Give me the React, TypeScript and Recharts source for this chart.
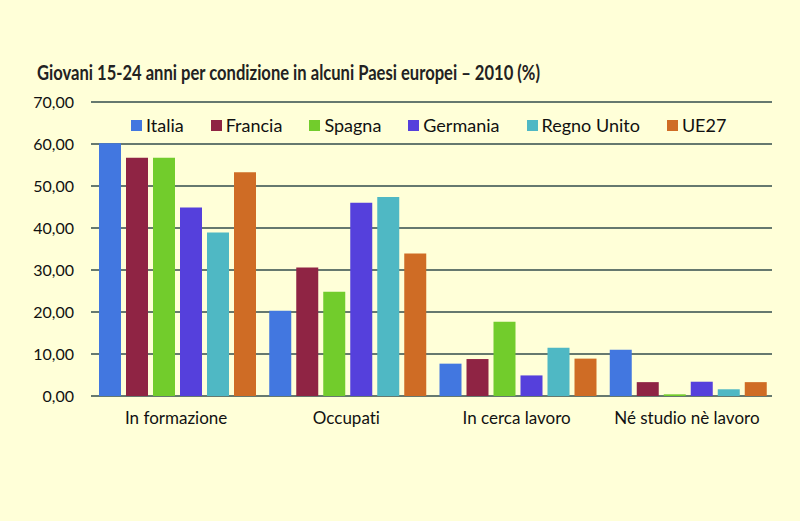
import { BarChart, Bar, XAxis, YAxis, CartesianGrid } from "recharts";

const categories = ["In formazione", "Occupati", "In cerca lavoro", "Né studio nè lavoro"];

const italia = [60.2, 20.3, 7.7, 11.0];
const francia = [56.7, 30.6, 8.8, 3.3];
const spagna = [56.7, 24.8, 17.7, 0.4];
const germania = [44.9, 46.0, 4.9, 3.4];
const regnoUnito = [38.9, 47.4, 11.5, 1.6];
const ue27 = [53.3, 33.9, 8.9, 3.3];

const yTicks = [0, 10, 20, 30, 40, 50, 60, 70];

const series = [
  { key: "Italia", values: italia, color: "#4277e0" },
  { key: "Francia", values: francia, color: "#8f2444" },
  { key: "Spagna", values: spagna, color: "#72cc2c" },
  { key: "Germania", values: germania, color: "#5540dc" },
  { key: "Regno Unito", values: regnoUnito, color: "#4fb8c4" },
  { key: "UE27", values: ue27, color: "#cf6c25" },
];

const data = categories.map((name, i) => {
  const row: Record<string, string | number> = { name };
  series.forEach((s) => {
    row[s.key] = s.values[i];
  });
  return row;
});

const FONT = "Lato, 'Noto Sans', sans-serif";
const BG = "#ffffd8";

function formatIt(v: number): string {
  return v.toFixed(2).replace(".", ",");
}

function LegendRow() {
  return (
    <div
      style={{
        position: "absolute",
        left: 131,
        top: 114,
        display: "flex",
        alignItems: "center",
        fontFamily: FONT,
        fontSize: 18,
        color: "#111",
        fontFeatureSettings: "'liga' 0",
      }}
    >
      {series.map((s) => (
        <div key={s.key} style={{ display: "flex", alignItems: "center", marginRight: 27 }}>
          <span style={{ width: 11, height: 11, background: s.color, marginRight: 4, display: "inline-block" }} />
          <span>{s.key}</span>
        </div>
      ))}
    </div>
  );
}

export default function App() {
  return (
    <div
      style={{
        position: "absolute",
        left: 0,
        top: 0,
        width: 800,
        height: 521,
        background: BG,
        overflow: "hidden",
      }}
    >
      <svg width={800} height={100} style={{ position: "absolute", left: 0, top: 0 }}>
        <text
          x={37}
          y={80}
          textLength={503}
          lengthAdjust="spacingAndGlyphs"
          style={{ fontFamily: FONT, fontSize: 20, fontWeight: 700, fill: "#222" }}
        >
          Giovani 15-24 anni per condizione in alcuni Paesi europei – 2010 (%)
        </text>
      </svg>
      <div style={{ position: "absolute", left: 0, top: 0 }}>
        <BarChart
          width={800}
          height={521}
          data={data}
          margin={{ top: 102, right: 28, left: 0, bottom: 95 }}
          barCategoryGap={8}
          barGap={5}
        >
          <CartesianGrid vertical={false} stroke="#66796f" strokeWidth={2} />
          <XAxis
            dataKey="name"
            axisLine={false}
            tickLine={false}
            tickSize={0}
            tickMargin={16}
            tick={{ fill: "#111", fontSize: 17, fontFamily: FONT, style: { fontFeatureSettings: "'liga' 0" } }}
            interval={0}
          />
          <YAxis
            width={91}
            domain={[0, 70]}
            ticks={yTicks}
            axisLine={false}
            tickLine={false}
            tickSize={0}
            tickMargin={17}
            tickFormatter={formatIt}
            tick={{ fill: "#111", fontSize: 16, fontFamily: FONT }}
          />
          {series.map((s) => (
            <Bar key={s.key} dataKey={s.key} fill={s.color} isAnimationActive={false} />
          ))}
        </BarChart>
      </div>
      <LegendRow />
    </div>
  );
}
